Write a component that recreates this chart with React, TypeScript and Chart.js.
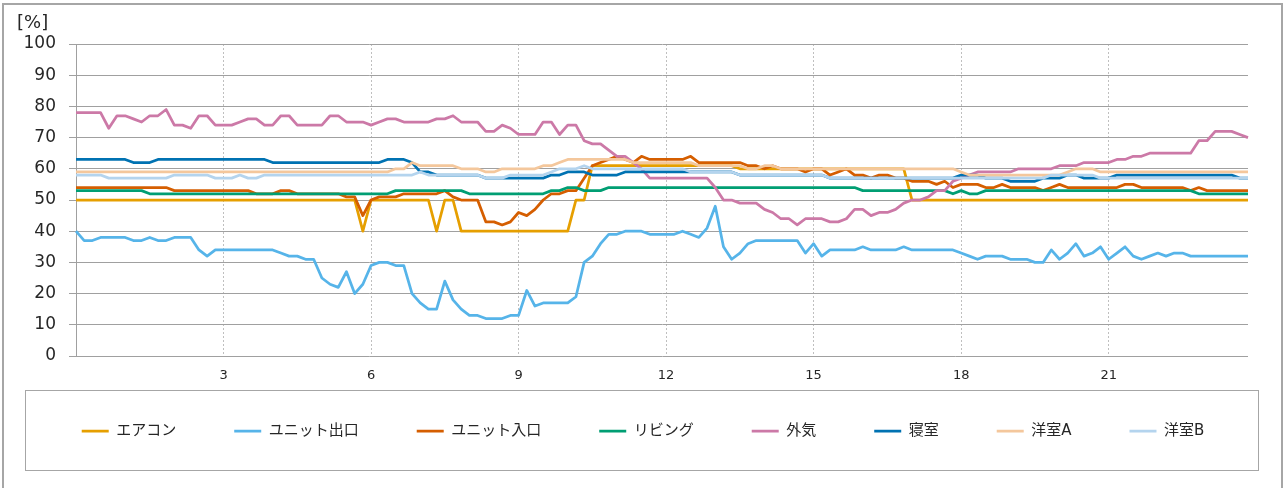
import React, { useEffect, useRef } from 'react';
import { Chart, registerables } from 'chart.js';

Chart.register(...registerables);

// ---- data (10-minute samples, 0:00 .. 23:50) ----
const seriesNames = ['エアコン', 'ユニット出口', 'ユニット入口', 'リビング', '外気', '寝室', '洋室A', '洋室B'];
const seriesColors = ['#E69F00', '#56B4E9', '#D55E00', '#009E73', '#CC79A7', '#0072B2', '#F4C79C', '#B4D4EE'];

const aircon = [
  50, 50, 50, 50, 50, 50, 50, 50, 50, 50, 50, 50,
  50, 50, 50, 50, 50, 50, 50, 50, 50, 50, 50, 50,
  50, 50, 50, 50, 50, 50, 50, 50, 50, 50, 50, 40,
  50, 50, 50, 50, 50, 50, 50, 50, 40, 50, 50, 40,
  40, 40, 40, 40, 40, 40, 40, 40, 40, 40, 40, 40,
  40, 50, 50, 61, 61, 61, 61, 61, 61, 61, 61, 61,
  61, 61, 61, 61, 61, 61, 61, 61, 61, 60, 60, 60,
  60, 60, 60, 60, 60, 60, 60, 60, 60, 60, 60, 60,
  60, 60, 60, 60, 60, 60, 50, 50, 50, 50, 50, 50,
  50, 50, 50, 50, 50, 50, 50, 50, 50, 50, 50, 50,
  50, 50, 50, 50, 50, 50, 50, 50, 50, 50, 50, 50,
  50, 50, 50, 50, 50, 50, 50, 50, 50, 50, 50, 50,
];

const unitOut = [
  40, 37, 37, 38, 38, 38, 38, 37, 37, 38, 37, 37,
  38, 38, 38, 34, 32, 34, 34, 34, 34, 34, 34, 34,
  34, 33, 32, 32, 31, 31, 25, 23, 22, 27, 20, 23,
  29, 30, 30, 29, 29, 20, 17, 15, 15, 24, 18, 15,
  13, 13, 12, 12, 12, 13, 13, 21, 16, 17, 17, 17,
  17, 19, 30, 32, 36, 39, 39, 40, 40, 40, 39, 39,
  39, 39, 40, 39, 38, 41, 48, 35, 31, 33, 36, 37,
  37, 37, 37, 37, 37, 33, 36, 32, 34, 34, 34, 34,
  35, 34, 34, 34, 34, 35, 34, 34, 34, 34, 34, 34,
  33, 32, 31, 32, 32, 32, 31, 31, 31, 30, 30, 34,
  31, 33, 36, 32, 33, 35, 31, 33, 35, 32, 31, 32,
  33, 32, 33, 33, 32, 32, 32, 32, 32, 32, 32, 32,
];

const unitIn = [
  54, 54, 54, 54, 54, 54, 54, 54, 54, 54, 54, 54,
  53, 53, 53, 53, 53, 53, 53, 53, 53, 53, 52, 52,
  52, 53, 53, 52, 52, 52, 52, 52, 52, 51, 51, 45,
  50, 51, 51, 51, 52, 52, 52, 52, 52, 53, 51, 50,
  50, 50, 43, 43, 42, 43, 46, 45, 47, 50, 52, 52,
  53, 53, 57, 61, 62, 63, 64, 63, 62, 64, 63, 63,
  63, 63, 63, 64, 62, 62, 62, 62, 62, 62, 61, 61,
  60, 61, 60, 60, 60, 59, 60, 60, 58, 59, 60, 58,
  58, 57, 58, 58, 57, 57, 56, 56, 56, 55, 56, 54,
  55, 55, 55, 54, 54, 55, 54, 54, 54, 54, 53, 54,
  55, 54, 54, 54, 54, 54, 54, 54, 55, 55, 54, 54,
  54, 54, 54, 54, 53, 54, 53, 53, 53, 53, 53, 53,
];

const living = [
  53, 53, 53, 53, 53, 53, 53, 53, 53, 52, 52, 52,
  52, 52, 52, 52, 52, 52, 52, 52, 52, 52, 52, 52,
  52, 52, 52, 52, 52, 52, 52, 52, 52, 52, 52, 52,
  52, 52, 52, 53, 53, 53, 53, 53, 53, 53, 53, 53,
  52, 52, 52, 52, 52, 52, 52, 52, 52, 52, 53, 53,
  54, 54, 53, 53, 53, 54, 54, 54, 54, 54, 54, 54,
  54, 54, 54, 54, 54, 54, 54, 54, 54, 54, 54, 54,
  54, 54, 54, 54, 54, 54, 54, 54, 54, 54, 54, 54,
  53, 53, 53, 53, 53, 53, 53, 53, 53, 53, 53, 52,
  53, 52, 52, 53, 53, 53, 53, 53, 53, 53, 53, 53,
  53, 53, 53, 53, 53, 53, 53, 53, 53, 53, 53, 53,
  53, 53, 53, 53, 53, 52, 52, 52, 52, 52, 52, 52,
];

const outside = [
  78, 78, 78, 78, 73, 77, 77, 76, 75, 77, 77, 79,
  74, 74, 73, 77, 77, 74, 74, 74, 75, 76, 76, 74,
  74, 77, 77, 74, 74, 74, 74, 77, 77, 75, 75, 75,
  74, 75, 76, 76, 75, 75, 75, 75, 76, 76, 77, 75,
  75, 75, 72, 72, 74, 73, 71, 71, 71, 75, 75, 71,
  74, 74, 69, 68, 68, 66, 64, 64, 62, 60, 57, 57,
  57, 57, 57, 57, 57, 57, 54, 50, 50, 49, 49, 49,
  47, 46, 44, 44, 42, 44, 44, 44, 43, 43, 44, 47,
  47, 45, 46, 46, 47, 49, 50, 50, 51, 53, 53, 56,
  57, 58, 59, 59, 59, 59, 59, 60, 60, 60, 60, 60,
  61, 61, 61, 62, 62, 62, 62, 63, 63, 64, 64, 65,
  65, 65, 65, 65, 65, 69, 69, 72, 72, 72, 71, 70,
];

const bedroom = [
  63, 63, 63, 63, 63, 63, 63, 62, 62, 62, 63, 63,
  63, 63, 63, 63, 63, 63, 63, 63, 63, 63, 63, 63,
  62, 62, 62, 62, 62, 62, 62, 62, 62, 62, 62, 62,
  62, 62, 63, 63, 63, 62, 59, 59, 58, 58, 58, 58,
  58, 58, 57, 57, 57, 57, 57, 57, 57, 57, 58, 58,
  59, 59, 59, 58, 58, 58, 58, 59, 59, 59, 59, 59,
  59, 59, 59, 59, 59, 59, 59, 59, 59, 58, 58, 58,
  58, 58, 58, 58, 58, 58, 58, 58, 57, 57, 57, 57,
  57, 57, 57, 57, 57, 57, 57, 57, 57, 57, 57, 57,
  58, 58, 58, 57, 57, 57, 56, 56, 56, 56, 57, 57,
  57, 58, 58, 57, 57, 57, 57, 58, 58, 58, 58, 58,
  58, 58, 58, 58, 58, 58, 58, 58, 58, 58, 57, 57,
];

const westA = [
  59, 59, 59, 59, 59, 59, 59, 59, 59, 59, 59, 59,
  59, 59, 59, 59, 59, 59, 59, 59, 59, 59, 59, 59,
  59, 59, 59, 59, 59, 59, 59, 59, 59, 59, 59, 59,
  59, 59, 59, 60, 60, 62, 61, 61, 61, 61, 61, 60,
  60, 60, 59, 59, 60, 60, 60, 60, 60, 61, 61, 62,
  63, 63, 63, 63, 63, 63, 63, 63, 62, 62, 62, 62,
  62, 62, 62, 62, 61, 61, 61, 61, 61, 61, 60, 60,
  61, 61, 60, 60, 60, 60, 60, 60, 60, 60, 60, 60,
  60, 60, 60, 60, 60, 60, 60, 60, 60, 60, 60, 60,
  59, 58, 58, 58, 58, 58, 58, 58, 58, 58, 58, 58,
  58, 59, 60, 60, 60, 59, 59, 59, 59, 59, 59, 59,
  59, 59, 59, 59, 59, 59, 59, 59, 59, 59, 59, 59,
];

const westB = [
  58, 58, 58, 58, 57, 57, 57, 57, 57, 57, 57, 57,
  58, 58, 58, 58, 58, 57, 57, 57, 58, 57, 57, 58,
  58, 58, 58, 58, 58, 58, 58, 58, 58, 58, 58, 58,
  58, 58, 58, 58, 58, 58, 59, 58, 58, 58, 58, 58,
  58, 58, 57, 57, 57, 58, 58, 58, 58, 58, 59, 60,
  60, 60, 61, 60, 60, 60, 60, 60, 60, 60, 60, 60,
  60, 60, 60, 59, 59, 59, 59, 59, 59, 58, 58, 58,
  58, 58, 58, 58, 58, 58, 58, 58, 57, 57, 57, 57,
  57, 57, 57, 57, 57, 57, 57, 57, 57, 57, 57, 57,
  57, 57, 57, 57, 57, 57, 57, 57, 57, 57, 57, 58,
  58, 58, 58, 58, 58, 57, 57, 57, 57, 57, 57, 57,
  57, 57, 57, 57, 57, 57, 57, 57, 57, 57, 57, 57,
];

const seriesValues = [aircon, unitOut, unitIn, living, outside, bedroom, westA, westB];

// category labels: sample times
const timeCategories: string[] = [];
for (let h = 0; h < 24; h++) {
  for (let m = 0; m < 60; m += 10) timeCategories.push(`${h}:${String(m).padStart(2, '0')}`);
}
const samplesPerTick = 18; // 3 hours of 10-minute samples
const xTickLabels = ['3', '6', '9', '12', '15', '18', '21'];
const yMin = 0;
const yMax = 100;
const yStep = 10;

const LATIN = '"DejaVu Sans", "Noto Sans CJK JP", sans-serif';

// legend items sit lower in the frame than the x-axis band would allow
const LEGEND_SHIFT = -20.5;

const legendShiftPlugin = {
  id: 'legendShift',
  afterLayout(chart: any) {
    const lg = chart.legend;
    if (lg) {
      lg.top += LEGEND_SHIFT;
      lg.bottom += LEGEND_SHIFT;
    }
  },
};

const decorPlugin = {
  id: 'decor',
  afterDraw(chart: any) {
    const ctx = chart.ctx as CanvasRenderingContext2D;
    ctx.save();
    // legend frame
    ctx.strokeStyle = '#A6A6A6';
    ctx.lineWidth = 1;
    ctx.strokeRect(25.5, 390.5, 1233, 80);
    // outer chart frame
    ctx.lineWidth = 2;
    ctx.strokeStyle = '#A6A6A6';
    ctx.strokeRect(3, 4, 1279, 500);
    // unit label
    ctx.fillStyle = '#262626';
    ctx.font = '18px ' + LATIN;
    ctx.textBaseline = 'middle';
    ctx.textAlign = 'left';
    ctx.fillText('[%]', 17, 23);
    ctx.restore();
  },
};

export default function App() {
  const canvasRef = useRef<HTMLCanvasElement | null>(null);

  useEffect(() => {
    if (!canvasRef.current) return;
    const chart = new Chart(canvasRef.current, {
      type: 'line',
      data: {
        labels: timeCategories,
        datasets: seriesNames.map((name, i) => ({
          label: name,
          data: seriesValues[i],
          borderColor: seriesColors[i],
          backgroundColor: seriesColors[i],
          borderWidth: 2.75,
          pointRadius: 0,
          pointHoverRadius: 0,
          tension: 0,
          fill: false,
          borderJoinStyle: 'round' as const,
          order: -i,
        })),
      },
      options: {
        responsive: false,
        animation: false,
        events: [],
        layout: { padding: { top: 44, bottom: 19, left: 0, right: 0 } },
        plugins: {
          tooltip: { enabled: false },
          title: { display: false },
          legend: {
            display: true,
            position: 'bottom',
            align: 'center',
            labels: {
              usePointStyle: true,
              pointStyle: 'line',
              pointStyleWidth: 27,
              padding: 58,
              color: '#262626',
              font: { size: 15, family: LATIN },
              sort: (a: any, b: any) => a.datasetIndex - b.datasetIndex,
            },
          },
        },
        scales: {
          x: {
            type: 'category',
            offset: false,
            grid: {
              color: (c: any) => (c.index > 0 && c.index % samplesPerTick === 0 ? '#BFBFBF' : 'rgba(0,0,0,0)'),
              lineWidth: 1,
              drawTicks: false,
            },
            border: { display: false, dash: [2, 2] },
            ticks: {
              autoSkip: false,
              maxRotation: 0,
              minRotation: 0,
              padding: 12,
              color: '#262626',
              font: { size: 13, family: LATIN },
              callback: (_v: any, index: number) =>
                index > 0 && index % samplesPerTick === 0 ? xTickLabels[index / samplesPerTick - 1] ?? '' : '',
            },
            afterFit: (s: any) => {
              s.height = 30;
            },
          },
          y: {
            type: 'linear',
            min: yMin,
            max: yMax,
            ticks: {
              stepSize: yStep,
              padding: 13,
              color: '#262626',
              font: { size: 17, family: LATIN },
            },
            grid: { color: '#A0A0A0', lineWidth: 1, tickLength: 7, drawTicks: true },
            border: { display: true, color: '#A0A0A0', width: 1 },
            afterFit: (s: any) => {
              s.width = 76;
            },
          },
          yR: {
            type: 'linear',
            position: 'right',
            display: true,
            grid: { display: false, drawTicks: false },
            ticks: { display: false },
            border: { display: false },
            afterFit: (s: any) => {
              s.width = 38;
            },
          },
        },
      },
      plugins: [legendShiftPlugin, decorPlugin],
    } as any);
    return () => chart.destroy();
  }, []);

  return (
    <div style={{ position: 'fixed', left: 0, top: 0, width: 1286, height: 488, background: '#fff' }}>
      <canvas ref={canvasRef} width={1286} height={488} style={{ display: 'block', width: 1286, height: 488 }} />
    </div>
  );
}
